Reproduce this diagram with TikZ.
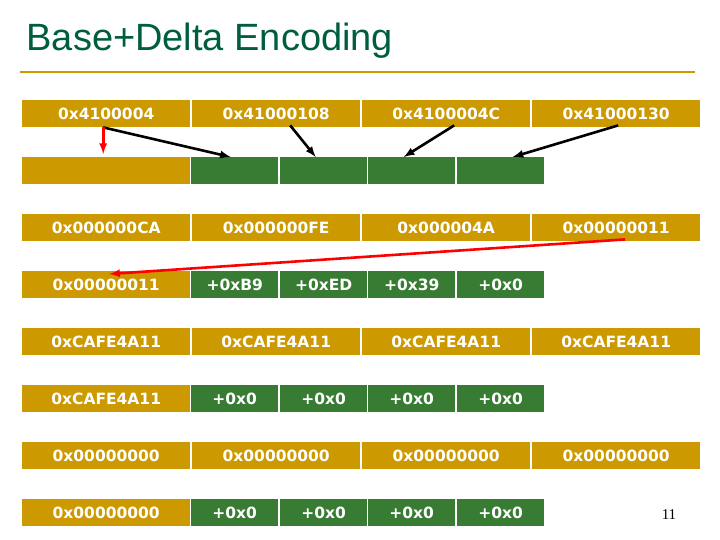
\documentclass[tikz,border=0pt]{standalone}
\usepackage{fontspec}
\setmainfont{Liberation Sans}
\newfontfamily\boxfont{DejaVu Sans}
\newfontfamily\pagefont{Liberation Serif}
\usetikzlibrary{arrows,positioning,calc}
\definecolor{gold}{RGB}{204,153,0}
\definecolor{leaf}{RGB}{56,124,52}
\definecolor{titlegreen}{RGB}{0,94,62}
\tikzset{
  basic/.style = {rectangle, inner sep=0pt, anchor=north west, text=white,
                  font=\boxfont\bfseries\fontsize{15.5}{15.5}\selectfont},
  base/.style  = {basic, fill=gold, minimum width=168pt, minimum height=27pt},
  delta/.style = {basic, fill=leaf, minimum width=87pt, minimum height=27pt},
  ptr/.style   = {-latex, line width=2.6pt},
}
\begin{document}
\begin{tikzpicture}[x=1pt, y=-1pt, >=latex]
\useasboundingbox (0,0) rectangle (720,540);

% title and rule
\node[anchor=west, text=titlegreen, font=\fontsize{38}{38}\selectfont] (title) at (23,41) {Base+Delta Encoding};
\draw[gold, line width=2.5pt] (20,72) -- (695,72);

% rows with four base values
\foreach \row/\y/\a/\b/\c/\d in {
    1/100/0x4100004/0x41000108/0x4100004C/0x41000130,
    3/214/0x000000CA/0x000000FE/0x000004A/0x00000011,
    5/328/0x{}CAFE4A11/0x{}CAFE4A11/0x{}CAFE4A11/0x{}CAFE4A11,
    7/442/0x00000000/0x00000000/0x00000000/0x00000000} {
  \node[base] (r\row c1) at (22,\y) {\a};
  \node[base] (r\row c2) at (192,\y) {\b};
  \node[base] (r\row c3) at (362,\y) {\c};
  \node[base] (r\row c4) at (532,\y) {\d};
}

% rows with one base and four deltas
\foreach \row/\y/\a/\b/\c/\d/\e in {
    2/157/{}/{}/{}/{}/{},
    4/271/0x00000011/+0xB9/+0xED/+0x39/+0x0,
    6/385/0x{}CAFE4A11/+0x0/+0x0/+0x0/+0x0,
    8/499/0x00000000/+0x0/+0x0/+0x0/+0x0} {
  \node[base] (r\row c1) at (22,\y) {\a};
  \node[delta] (r\row c2) at (191,\y) {\b};
  \node[delta] (r\row c3) at (280,\y) {\c};
  \node[delta] (r\row c4) at (368,\y) {\d};
  \node[delta] (r\row c5) at (457,\y) {\e};
}

% pointers into the compressed line
\draw[ptr] ($(r1c1.south)+(-3,0)$) -- ($(r2c2.north)+(-4,0)$);
\draw[ptr] ($(r1c2.south)+(14,-2)$) -- ($(r2c3.north)+(-8,0)$);
\draw[ptr] ($(r1c3.south)+(8,-2)$) -- ($(r2c4.north)+(-8,0)$);
\draw[ptr] ($(r1c4.south)+(2,-2)$) -- ($(r2c5.north)+(12,0)$);
\draw[ptr, red] ($(r1c1.south)+(-3,0)$) -- ($(r2c1.north)+(-3,-3)$);
\draw[ptr, red] ($(r3c4.south)+(9,-2)$) -- ($(r4c1.north)+(3,3)$);

% page number
\node[font=\pagefont\fontsize{15}{15}\selectfont] (page) at (669,515) {11};
\end{tikzpicture}
\end{document}
